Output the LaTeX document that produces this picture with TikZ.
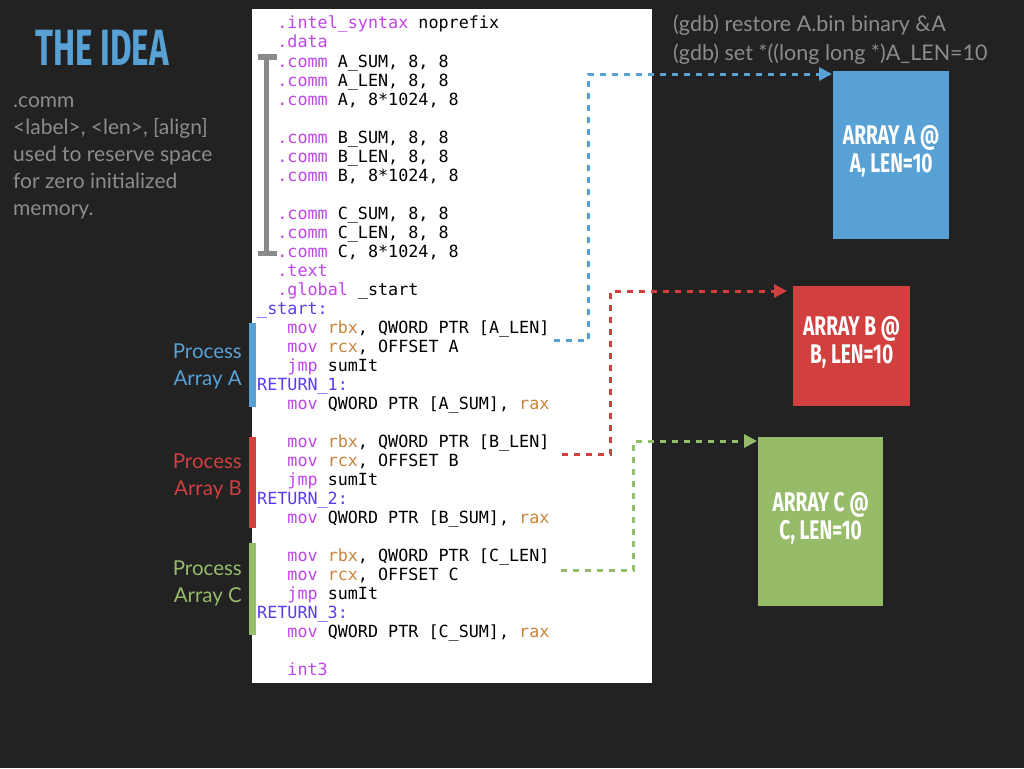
\documentclass[tikz,border=0pt]{standalone}
\usepackage{fontspec}
\setmainfont{Lato}
\setmonofont{DejaVu Sans Mono}
\newfontfamily\titlefont{Fira Sans}
\usetikzlibrary{arrows.meta}
\definecolor{bg}{HTML}{222222}
\definecolor{kwc}{HTML}{BF45EA}
\definecolor{regc}{HTML}{C7843C}
\definecolor{labc}{HTML}{5B3CF2}
\definecolor{graytxt}{HTML}{8C8C8C}
\definecolor{bracketc}{HTML}{8A8A8A}
\definecolor{blueA}{HTML}{57A1D5}
\definecolor{redB}{HTML}{D13F3E}
\definecolor{greenC}{HTML}{96BC6A}
\newcommand\ckw[1]{\textcolor{kwc}{#1}}
\newcommand\creg[1]{\textcolor{regc}{#1}}
\newcommand\clab[1]{\textcolor{labc}{#1}}
\newcommand\codeln[4]{\node[code] (#1) at ({257+#3*10.08},{29+19*#2}) {#4};}
\tikzset{
  code/.style={anchor=base west, inner sep=0pt, text=black, font=\ttfamily\fontsize{16.74}{19}\selectfont},
  desc/.style={anchor=base west, inner sep=0pt, text=graytxt, font=\fontsize{21}{27}\selectfont},
  gdbtxt/.style={anchor=base west, inner sep=0pt, text=graytxt, font=\fontsize{21.5}{28}\selectfont},
  proc/.style={anchor=base east, inner sep=0pt, font=\fontsize{20.5}{27}\selectfont},
  boxtxt/.style={inner sep=0pt, text=white, align=center, font=\titlefont\bfseries\fontsize{27}{28}\selectfont},
  link/.style={line width=3pt, dash pattern=on 6pt off 6pt, -{Triangle[length=13pt,width=13pt]}},
}
\begin{document}
\begin{tikzpicture}[x=1pt,y=-1pt]
\useasboundingbox (0,0) rectangle (1024,768);
\fill[bg] (0,0) rectangle (1024,768);
% title and description
\node[anchor=base west, inner sep=0pt, text=blueA, font=\titlefont\bfseries\fontsize{51}{51}\selectfont] (title) at (35,65) {\scalebox{0.65}[1]{THE IDEA}};
\node[desc] (d1) at (13,107) {.comm};
\node[desc] (d2) at (13,134) {<label>, <len>, [align]};
\node[desc] (d3) at (13,161) {used to reserve space};
\node[desc] (d4) at (13,188) {for zero initialized};
\node[desc] (d5) at (13,215) {memory.};
% gdb
\node[gdbtxt] (g1) at (673,32) {(gdb) restore A.bin binary \&A};
\node[gdbtxt] (g2) at (673,60) {(gdb) set *((long long *)A\_LEN=10};
% code panel
\fill[white] (252,9) rectangle (652,683);
\codeln{l0}{0}{2}{\ckw{.intel\_syntax} noprefix}
\codeln{l1}{1}{2}{\ckw{.data}}
\codeln{l2}{2}{2}{\ckw{.comm} A\_SUM, 8, 8}
\codeln{l3}{3}{2}{\ckw{.comm} A\_LEN, 8, 8}
\codeln{l4}{4}{2}{\ckw{.comm} A, 8*1024, 8}
\codeln{l6}{6}{2}{\ckw{.comm} B\_SUM, 8, 8}
\codeln{l7}{7}{2}{\ckw{.comm} B\_LEN, 8, 8}
\codeln{l8}{8}{2}{\ckw{.comm} B, 8*1024, 8}
\codeln{l10}{10}{2}{\ckw{.comm} C\_SUM, 8, 8}
\codeln{l11}{11}{2}{\ckw{.comm} C\_LEN, 8, 8}
\codeln{l12}{12}{2}{\ckw{.comm} C, 8*1024, 8}
\codeln{l13}{13}{2}{\ckw{.text}}
\codeln{l14}{14}{2}{\ckw{.global} \_start}
\codeln{l15}{15}{0}{\clab{\_start:}}
\codeln{l16}{16}{3}{\ckw{mov} \creg{rbx}, QWORD PTR [A\_LEN]}
\codeln{l17}{17}{3}{\ckw{mov} \creg{rcx}, OFFSET A}
\codeln{l18}{18}{3}{\ckw{jmp} sumIt}
\codeln{l19}{19}{0}{\clab{RETURN\_1:}}
\codeln{l20}{20}{3}{\ckw{mov} QWORD PTR [A\_SUM], \creg{rax}}
\codeln{l22}{22}{3}{\ckw{mov} \creg{rbx}, QWORD PTR [B\_LEN]}
\codeln{l23}{23}{3}{\ckw{mov} \creg{rcx}, OFFSET B}
\codeln{l24}{24}{3}{\ckw{jmp} sumIt}
\codeln{l25}{25}{0}{\clab{RETURN\_2:}}
\codeln{l26}{26}{3}{\ckw{mov} QWORD PTR [B\_SUM], \creg{rax}}
\codeln{l28}{28}{3}{\ckw{mov} \creg{rbx}, QWORD PTR [C\_LEN]}
\codeln{l29}{29}{3}{\ckw{mov} \creg{rcx}, OFFSET C}
\codeln{l30}{30}{3}{\ckw{jmp} sumIt}
\codeln{l31}{31}{0}{\clab{RETURN\_3:}}
\codeln{l32}{32}{3}{\ckw{mov} QWORD PTR [C\_SUM], \creg{rax}}
\codeln{l34}{34}{3}{\ckw{int3}}
% gray bracket
\draw[bracketc, line width=5pt] (258,57) -- (277,57) (266,57) -- (266,253) (258,253) -- (277,253);
% colored bars
\fill[blueA] (249,323) rectangle (256,407);
\fill[redB] (249,437) rectangle (256,528);
\fill[greenC] (249,543) rectangle (256,635);
% process labels
\node[proc, text=blueA] (pa1) at (242,358) {Process};
\node[proc, text=blueA] (pa2) at (242,385) {Array A};
\node[proc, text=redB] (pb1) at (242,468) {Process};
\node[proc, text=redB] (pb2) at (242,495) {Array B};
\node[proc, text=greenC] (pc1) at (242,575) {Process};
\node[proc, text=greenC] (pc2) at (242,602) {Array C};
% array boxes
\node[fill=blueA, minimum width=116pt, minimum height=168pt, inner sep=0pt, anchor=north west] (boxA) at (833,71) {};
\node[fill=redB, minimum width=117pt, minimum height=120pt, inner sep=0pt, anchor=north west] (boxB) at (793,286) {};
\node[fill=greenC, minimum width=125pt, minimum height=169pt, inner sep=0pt, anchor=north west] (boxC) at (758,437) {};
\node[boxtxt] (tA) at ([yshift=4pt]boxA.center) {\scalebox{0.71}[1]{ARRAY A @}\\\scalebox{0.71}[1]{A, LEN=10}};
\node[boxtxt] (tB) at ([yshift=4pt]boxB.center) {\scalebox{0.71}[1]{ARRAY B @}\\\scalebox{0.71}[1]{B, LEN=10}};
\node[boxtxt] (tC) at ([yshift=3pt]boxC.center) {\scalebox{0.71}[1]{ARRAY C @}\\\scalebox{0.71}[1]{C, LEN=10}};
% links
\draw[link, blueA] ([xshift=4pt,yshift=-7pt]l16.base east) -- ++(35,0) |- ([xshift=-1pt,yshift=-3pt]boxA.north west);
\draw[link, redB] ([xshift=12pt,yshift=-7pt]l22.base east) -- ++(49,0) |- ([xshift=-6pt,yshift=-5pt]boxB.north west);
\draw[link, greenC] ([xshift=11pt,yshift=-9pt]l28.base east) -- ++(73,0) |- ([xshift=-1pt,yshift=-4pt]boxC.north west);
\end{tikzpicture}
\end{document}
